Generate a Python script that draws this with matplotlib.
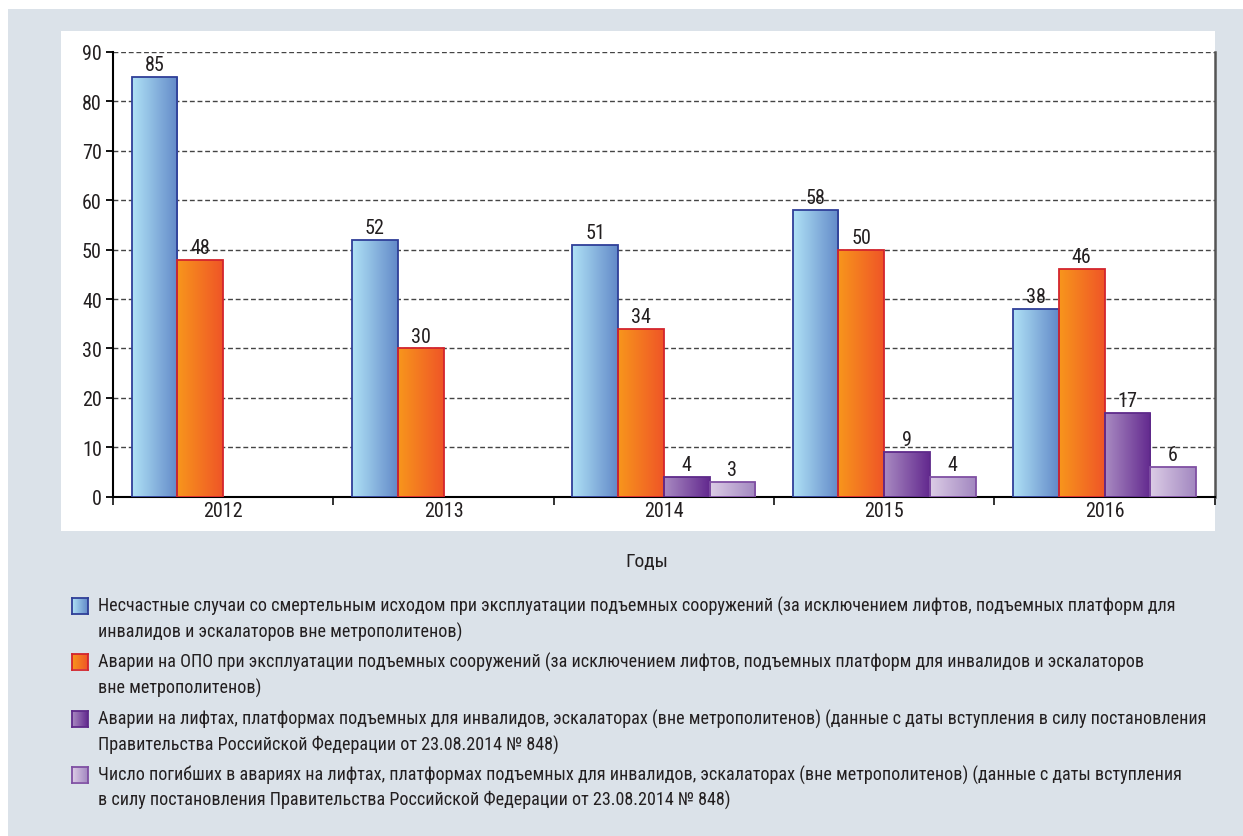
import numpy as np
import matplotlib
matplotlib.use("Agg")
import matplotlib.pyplot as plt
from matplotlib import font_manager
from matplotlib.patches import Rectangle
from matplotlib.colors import LinearSegmentedColormap

# ---------------- data ----------------
years = ["2012", "2013", "2014", "2015", "2016"]
fatal_accidents = [85, 52, 51, 58, 38]
opo_accidents = [48, 30, 34, 50, 46]
lift_accidents = [None, None, 4, 9, 17]
lift_deaths = [None, None, 3, 4, 6]
y_ticks = [0, 10, 20, 30, 40, 50, 60, 70, 80, 90]
x_label = "Годы"
legend_lines = [
    ["Несчастные случаи со смертельным исходом при эксплуатации подъемных сооружений (за исключением лифтов, подъемных платформ для",
     "инвалидов и эскалаторов вне метрополитенов)"],
    ["Аварии на ОПО при эксплуатации подъемных сооружений (за исключением лифтов, подъемных платформ для инвалидов и эскалаторов",
     "вне метрополитенов)"],
    ["Аварии на лифтах, платформах подъемных для инвалидов, эскалаторах (вне метрополитенов) (данные с даты вступления в силу постановления",
     "Правительства Российской Федерации от 23.08.2014 № 848)"],
    ["Число погибших в авариях на лифтах, платформах подъемных для инвалидов, эскалаторах (вне метрополитенов) (данные с даты вступления",
     "в силу постановления Правительства Российской Федерации от 23.08.2014 № 848)"],
]

# ---------------- style ----------------
avail = sorted({f.name for f in font_manager.fontManager.ttflist})
narrow = [f for f in avail if ("Narrow" in f or "Condensed" in f) and "Mono" not in f and "Serif" not in f]
pref = [f for f in ["Liberation Sans Narrow", "Roboto Condensed", "DejaVu Sans Condensed"] if f in avail]
fam = pref or narrow[:1] or [f for f in ["Roboto", "DejaVu Sans"] if f in avail]
plt.rcParams["font.family"] = fam + ["DejaVu Sans"]

series = [fatal_accidents, opo_accidents, lift_accidents, lift_deaths]
grads = [("#b0e2f6", "#6289c8"), ("#f8961c", "#ef5527"), ("#a98bc2", "#62288e"), ("#dccde6", "#a287c0")]
edges = ["#2f3f98", "#d3252d", "#5e2a8a", "#7f4fa3"]
txt_color = "#231f20"
num_fs = 14.5

W, H = 1243, 837
fig = plt.figure(figsize=(W / 100, H / 100), dpi=100, facecolor="white")

def fx(px):
    return px / W

def fy(py):
    return 1 - py / H

bg = "#dbe2e9"
fig.add_artist(Rectangle((fx(8), 0), 1 - fx(8), fy(10), transform=fig.transFigure,
                         facecolor=bg, edgecolor="none", zorder=0))
fig.add_artist(Rectangle((fx(61), fy(532)), fx(1215 - 61), (532 - 32) / H, transform=fig.transFigure,
                         facecolor="white", edgecolor="none", zorder=0))

ax_l, ax_r, ax_t, ax_b = 113, 1214.7, 53, 497.7
ax = fig.add_axes([fx(ax_l), fy(ax_b), fx(ax_r - ax_l), (ax_b - ax_t) / H])
ax.set_facecolor("none")

n = len(years)
x = np.arange(n)
bw = 0.2075
offsets = (np.arange(4) - 1.5) * bw
grad_img = np.linspace(0, 1, 256).reshape(1, -1)

for si, vals in enumerate(series):
    cmap = LinearSegmentedColormap.from_list(f"g{si}", list(grads[si]))
    for i, v in enumerate(vals):
        if v is None:
            continue
        x0 = x[i] + offsets[si] - bw / 2
        im = ax.imshow(grad_img, cmap=cmap, extent=[x0, x0 + bw, 0, v], aspect="auto",
                       interpolation="bilinear", zorder=3)
        rect = Rectangle((x0, 0), bw, v, facecolor="none", edgecolor=edges[si], linewidth=1.3, zorder=4)
        ax.add_patch(rect)
        im.set_clip_path(rect)
        ax.text(x[i] + offsets[si], v + 0.6, str(v), ha="center", va="bottom", fontsize=num_fs,
                color=txt_color, zorder=5)

ax.set_xlim(-0.5, n - 0.5)
ax.set_ylim(0, 90)
ax.set_yticks(y_ticks)
ax.set_xticks(np.arange(n + 1) - 0.5)
ax.set_xticklabels([])
ax.set_xticks(x, minor=True)
ax.set_xticklabels(years, minor=True, fontsize=num_fs, color=txt_color)
ax.tick_params(axis="x", which="minor", length=0, pad=3)
ax.tick_params(axis="x", which="major", length=6, width=1.3, direction="out", color="#222222")
ax.tick_params(axis="y", length=5, width=1.3, direction="out", labelsize=num_fs, labelcolor=txt_color, pad=3)
ax.yaxis.grid(True, linestyle=(0, (3.5, 2)), color="#444444", linewidth=1.0, zorder=1)
ax.set_axisbelow(True)
ax.spines["top"].set_visible(False)
ax.spines["left"].set_linewidth(1.5)
ax.spines["bottom"].set_linewidth(1.5)
ax.spines["right"].set_linewidth(1.8)
ax.spines["right"].set_color("#555555")

fig.text(fx(647), fy(562), x_label, ha="center", va="center", fontsize=14, color=txt_color)

# legend: fit font size so the long lines match the reference widths
line_y = [(606, 632), (662, 688), (719, 745), (775, 800)]
target_right = [1207, 1148, 1207, 1183]
renderer = fig.canvas.get_renderer()
base_fs = 12.5
ratios = []
for lines, tr in zip(legend_lines, target_right):
    t = fig.text(0, 0, lines[0], fontsize=base_fs)
    w = t.get_window_extent(renderer).width
    t.remove()
    ratios.append((tr - 98) / w)
leg_fs = base_fs * float(np.median(ratios))

for si, (lines, ys) in enumerate(zip(legend_lines, line_y)):
    cmap = LinearSegmentedColormap.from_list(f"lg{si}", list(grads[si]))
    sq = fig.add_axes([fx(72), fy(ys[0] + 8.5), fx(16), 16 / H])
    sq.imshow(grad_img, cmap=cmap, aspect="auto", extent=[0, 1, 0, 1], interpolation="bilinear")
    sq.set_xlim(0, 1)
    sq.set_ylim(0, 1)
    sq.set_xticks([])
    sq.set_yticks([])
    for s in sq.spines.values():
        s.set_color(edges[si])
        s.set_linewidth(1.3)
    for li, t in enumerate(lines):
        fig.text(fx(98), fy(ys[li]), t, ha="left", va="center", fontsize=leg_fs, color=txt_color)

fig.savefig("out.png", dpi=100, facecolor=fig.get_facecolor())
